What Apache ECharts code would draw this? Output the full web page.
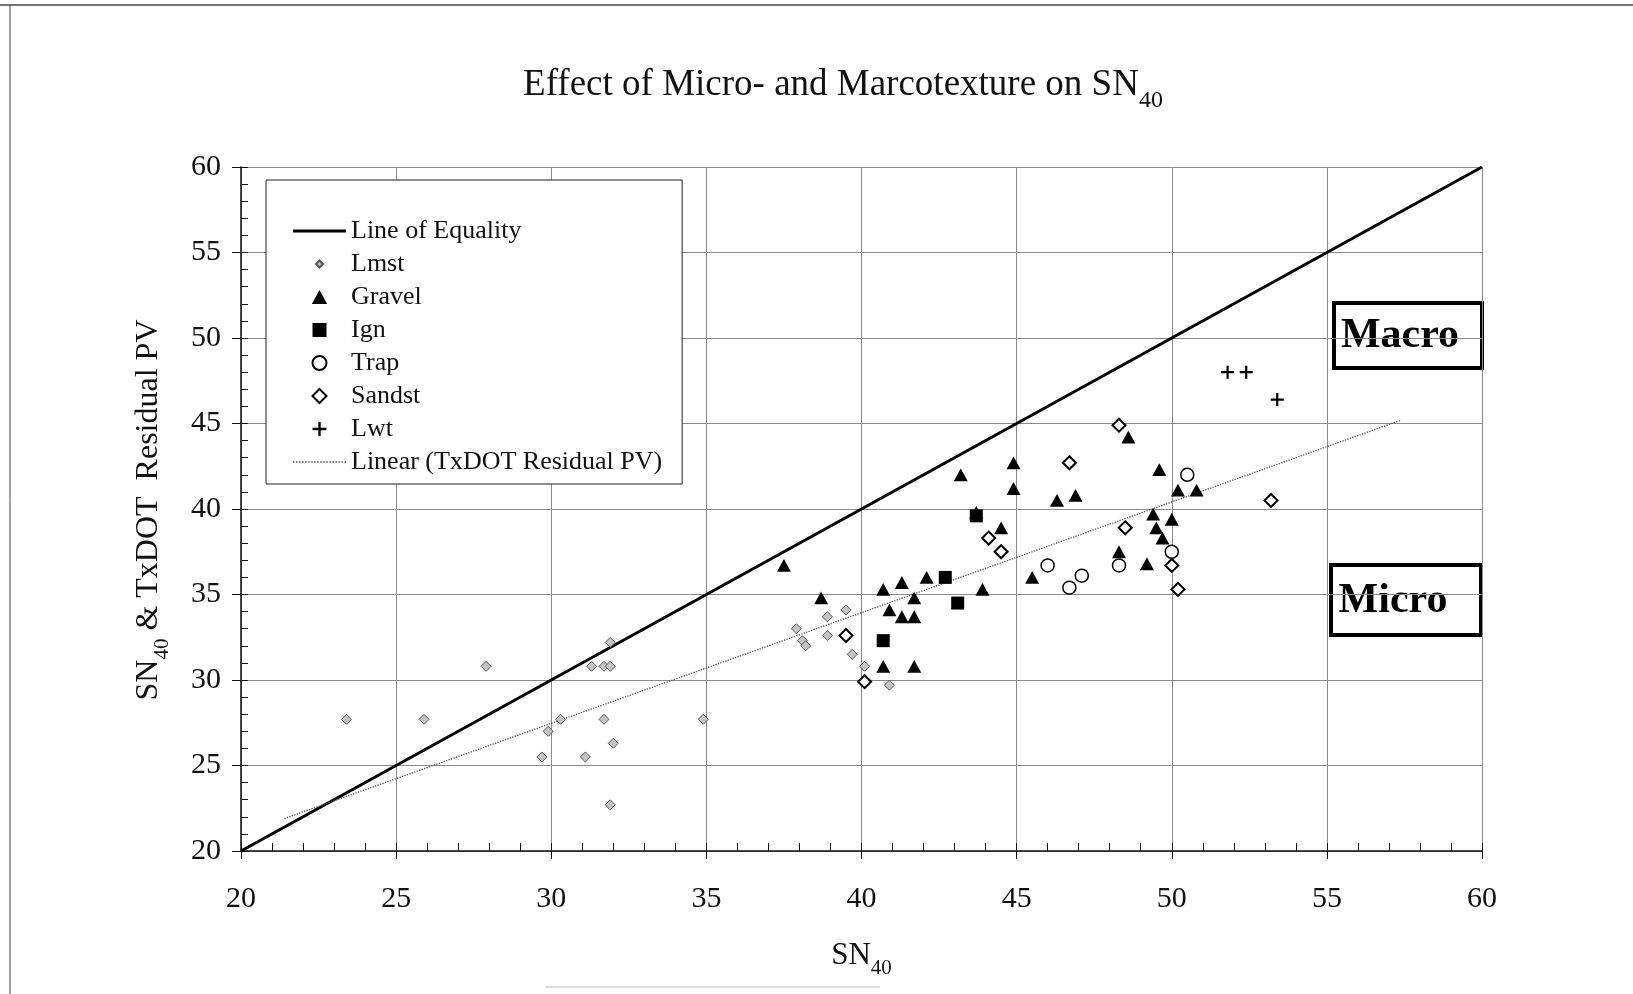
<!DOCTYPE html>
<html>
<head>
<meta charset="utf-8">
<script src="https://cdn.jsdelivr.net/npm/echarts@6/dist/echarts.min.js"></script>
<style>
html,body{margin:0;padding:0;background:#fff;}
#c{width:1633px;height:994px;}
</style>
</head>
<body>
<div id="c"></div>
<script>
// ---- data ----
const xTicks = [20, 25, 30, 35, 40, 45, 50, 55, 60];
const yTicks = [20, 25, 30, 35, 40, 45, 50, 55, 60];
const seriesNames = ['Line of Equality', 'Lmst', 'Gravel', 'Ign', 'Trap', 'Sandst', 'Lwt', 'Linear (TxDOT Residual PV)'];

const equality = [[20, 20], [60, 60]];
const trend = [[21.4, 21.9], [57.4, 45.2]];

const lmst = [
  [23.4, 27.7], [25.9, 27.7], [27.9, 30.8], [29.9, 27.0], [30.3, 27.7], [29.7, 25.5],
  [31.1, 25.5], [31.3, 30.8], [31.7, 30.8], [31.9, 30.8], [31.9, 32.2], [31.7, 27.7],
  [32.0, 26.3], [31.9, 22.7], [34.9, 27.7], [37.9, 33.0], [38.1, 32.3], [38.2, 32.0],
  [38.9, 33.7], [38.9, 32.6], [39.5, 34.1], [39.7, 31.5], [40.1, 30.8], [40.9, 29.7]
];
const gravel = [
  [37.5, 36.7], [38.7, 34.8], [40.7, 35.3], [41.3, 35.7], [42.1, 36.0], [41.7, 34.8],
  [40.9, 34.1], [41.3, 33.7], [41.7, 33.7], [40.7, 30.8], [41.7, 30.8], [43.9, 35.3],
  [45.5, 36.0], [48.3, 37.5], [43.2, 42.0], [43.7, 39.8], [44.5, 38.9], [44.9, 42.7],
  [44.9, 41.2], [46.3, 40.5], [46.9, 40.8], [48.6, 44.2], [49.6, 42.3], [50.2, 41.1],
  [50.8, 41.1], [49.4, 39.7], [50.0, 39.4], [49.5, 38.9], [49.7, 38.3], [49.2, 36.8]
];
const ign = [[42.7, 36.0], [43.1, 34.5], [40.7, 32.3], [43.7, 39.6]];
const trap = [[46.0, 36.7], [47.1, 36.1], [46.7, 35.4], [48.3, 36.7], [50.5, 42.0], [50.0, 37.5]];
const sandst = [
  [39.5, 32.6], [40.1, 29.9], [44.5, 37.5], [44.1, 38.3], [46.7, 42.7], [48.3, 44.9],
  [48.5, 38.9], [50.0, 36.7], [50.2, 35.3], [53.2, 40.5]
];
const lwt = [[51.8, 48.0], [52.4, 48.0], [53.4, 46.4]];

// ---- chart ----
const FONT = '"Liberation Serif", "DejaVu Serif", serif';
const P = {
  diamond: 'path://M6,0L12,6L6,12L0,6z',
  triangle: 'path://M6,0L12,11L0,11z',
  rect: 'path://M0,0h12v12h-12z',
  circle: 'path://M0,6a6,6 0 1,0 12,0a6,6 0 1,0 -12,0z',
  plus: 'path://M5,0h2v5h5v2h-5v5h-2v-5h-5v-2h5z'
};
const solidIcon = 'path://M0,0h53v3h-53z';
let dots = '';
for (let i = 0; i < 53; i += 3) dots += 'M' + i + ',0h1.5v1.5h-1.5z';
const dottedIcon = 'path://' + dots;

const chart = echarts.init(document.getElementById('c'));

const baseAxis = { type: 'value', min: 20, max: 60, interval: 5 };

const symbolStyle = {
  'Lmst': { symbol: P.diamond, symbolSize: 10, legendIcon: 'path://M0,0M14,14M3.5,7L7,3.5L10.5,7L7,10.5z', itemStyle: { color: '#c4c4c4', borderColor: '#555', borderWidth: 1, opacity: 1 } },
  'Gravel': { symbol: P.triangle, symbolSize: 14, itemStyle: { color: '#000', opacity: 1 } },
  'Ign': { symbol: P.rect, symbolSize: 13, itemStyle: { color: '#000', opacity: 1 } },
  'Trap': { symbol: P.circle, symbolSize: 13, itemStyle: { color: '#fff', borderColor: '#000', borderWidth: 1.5, opacity: 1 } },
  'Sandst': { symbol: P.diamond, symbolSize: 13, itemStyle: { color: '#fff', borderColor: '#000', borderWidth: 2, opacity: 1 } },
  'Lwt': { symbol: P.plus, symbolSize: 13, itemStyle: { color: '#000', opacity: 1 } }
};
const scatterData = { 'Lmst': lmst, 'Gravel': gravel, 'Ign': ign, 'Trap': trap, 'Sandst': sandst, 'Lwt': lwt };

const scatterSeries = Object.keys(scatterData).map(function (n) {
  const s = symbolStyle[n];
  return {
    name: n, type: 'scatter', data: scatterData[n], z: 4, symbolKeepAspect: true,
    symbol: s.symbol, symbolSize: s.symbolSize, itemStyle: s.itemStyle
  };
});

const legendData = seriesNames.map(function (n) {
  if (n === seriesNames[0]) return { name: n, icon: solidIcon };
  if (n === seriesNames[7]) return { name: n, icon: dottedIcon };
  return { name: n, icon: symbolStyle[n].legendIcon || symbolStyle[n].symbol };
});

chart.setOption({
  backgroundColor: '#fff',
  animation: false,
  title: {
    text: '{a|Effect of Micro- and Marcotexture on SN}{s|40}',
    left: 838, top: 55, textAlign: 'center',
    textStyle: {
      fontWeight: 'normal',
      rich: {
        a: { fontFamily: FONT, fontSize: 37, fontWeight: 'normal', color: '#111', lineHeight: 44, verticalAlign: 'bottom' },
        s: { fontFamily: FONT, fontSize: 24, fontWeight: 'normal', color: '#111', lineHeight: 44, verticalAlign: 'bottom', padding: [0, 0, -9, 0] }
      }
    }
  },
  grid: { left: 241, right: 151, top: 167, bottom: 143 },
  legend: {
    data: legendData,
    orient: 'vertical',
    left: 266, top: 180,
    padding: [38, 20, 9, 27],
    itemWidth: 53, itemHeight: 14, itemGap: 7,
    symbolKeepAspect: true,
    backgroundColor: '#fff',
    borderColor: '#222', borderWidth: 1,
    textStyle: { fontFamily: FONT, fontSize: 26, lineHeight: 26, color: '#111' },
    selectedMode: false
  },
  xAxis: [
    Object.assign({}, baseAxis, {
      position: 'bottom',
      name: '{a|SN}{s|40}', nameLocation: 'middle', nameGap: 84,
      nameTextStyle: {
        rich: {
          a: { fontFamily: FONT, fontSize: 31, color: '#111', lineHeight: 36, verticalAlign: 'bottom' },
          s: { fontFamily: FONT, fontSize: 21, color: '#111', lineHeight: 36, verticalAlign: 'bottom', padding: [0, 0, -8, 0] }
        }
      },
      axisLine: { show: true, onZero: false, lineStyle: { color: '#111', width: 1.5 } },
      axisTick: { show: true, inside: false, length: 8, lineStyle: { color: '#111' } },
      axisLabel: {
        margin: 33, fontFamily: FONT, fontSize: 30, color: '#111',
        customValues: xTicks
      },
      splitLine: { show: true, lineStyle: { color: '#8a8a8a', width: 1 } }
    }),
    Object.assign({}, baseAxis, {
      position: 'bottom',
      axisLine: { show: false },
      axisTick: { show: true, inside: true, length: 8, lineStyle: { color: '#111' } },
      minorTick: { show: true, splitNumber: 5, length: 8, lineStyle: { color: '#111', width: 1 } },
      axisLabel: { show: false },
      splitLine: { show: false }
    })
  ],
  yAxis: [
    Object.assign({}, baseAxis, {
      position: 'left',
      axisLine: { show: true, onZero: false, lineStyle: { color: '#111', width: 1.5 } },
      axisTick: { show: true, inside: false, length: 9, lineStyle: { color: '#111' } },
      axisLabel: {
        margin: 20, fontFamily: FONT, fontSize: 30, color: '#111',
        customValues: yTicks
      },
      splitLine: { show: true, lineStyle: { color: '#8a8a8a', width: 1 } }
    }),
    Object.assign({}, baseAxis, {
      position: 'left',
      axisLine: { show: false },
      axisTick: { show: true, inside: true, length: 7, lineStyle: { color: '#111' } },
      minorTick: { show: true, splitNumber: 5, length: 7, lineStyle: { color: '#111', width: 1 } },
      axisLabel: { show: false },
      splitLine: { show: false }
    })
  ],
  series: [
    {
      name: seriesNames[0], type: 'line', data: equality, symbol: 'none', z: 3,
      lineStyle: { color: '#000', width: 3 }, itemStyle: { color: '#000' }
    }
  ].concat(scatterSeries).concat([
    {
      name: seriesNames[7], type: 'line', data: trend, symbol: 'none', z: 3,
      lineStyle: { color: '#555', width: 1.3, type: 'dotted' }, itemStyle: { color: '#555' }
    }
  ]),
  graphic: [
    { type: 'line', shape: { x1: 10, y1: 5, x2: 10, y2: 994 }, style: { stroke: '#444', lineWidth: 1 }, silent: true },
    { type: 'line', shape: { x1: 0, y1: 5, x2: 1633, y2: 5 }, style: { stroke: '#444', lineWidth: 1.5 }, silent: true },
    { type: 'line', shape: { x1: 545, y1: 987, x2: 880, y2: 987 }, style: { stroke: '#bbb', lineWidth: 1 }, silent: true },
    {
      type: 'text', x: 147, y: 510, rotation: Math.PI / 2, silent: true,
      style: {
        text: '{a|SN}{s|40}{a| & TxDOT  Residual PV}',
        align: 'center', verticalAlign: 'middle',
        rich: {
          a: { fontFamily: FONT, fontSize: 32, fill: '#111', lineHeight: 36, verticalAlign: 'bottom' },
          s: { fontFamily: FONT, fontSize: 21, fill: '#111', lineHeight: 36, verticalAlign: 'bottom', padding: [0, 0, -8, 0] }
        }
      }
    },
    {
      type: 'group', left: 1332, top: 301, z: 100,
      children: [
        { type: 'rect', shape: { x: 0, y: 0, width: 148, height: 65 }, style: { fill: '#fff', stroke: '#000', lineWidth: 4 } },
        { type: 'text', x: 66, y: 33, style: { text: 'Macro', align: 'center', verticalAlign: 'middle', fontFamily: FONT, fontSize: 42, fontWeight: 'bold', fill: '#000' } }
      ]
    },
    {
      type: 'group', left: 1329, top: 563, z: 100,
      children: [
        { type: 'rect', shape: { x: 0, y: 0, width: 150, height: 70 }, style: { fill: '#fff', stroke: '#000', lineWidth: 4 } },
        { type: 'text', x: 62, y: 36, style: { text: 'Micro', align: 'center', verticalAlign: 'middle', fontFamily: FONT, fontSize: 42, fontWeight: 'bold', fill: '#000' } }
      ]
    }
  ]
});
</script>
</body>
</html>
